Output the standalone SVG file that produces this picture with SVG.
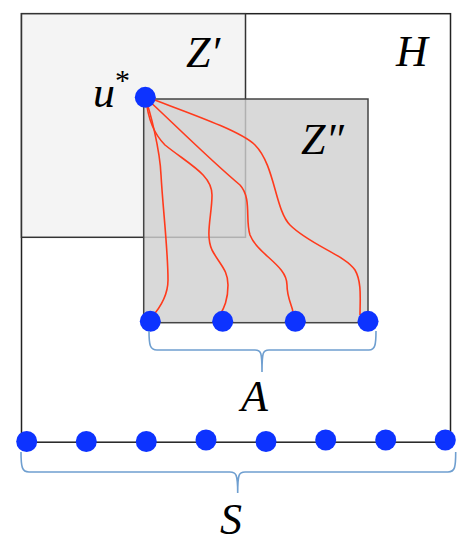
<svg xmlns="http://www.w3.org/2000/svg" width="471" height="543" viewBox="0 0 471 543">
<style>
.lbl{font-family:"Liberation Serif","DejaVu Serif",serif;font-style:italic;font-size:44px;fill:#000}
.dot{fill:#0d33ff}
.curve{fill:none;stroke:#ff3a1c;stroke-width:1.6}
.brace{fill:none;stroke:#6f9fd0;stroke-width:1.6}
</style>
<rect width="471" height="543" fill="#fff"/>
<g id="H">
<rect x="21.5" y="13.7" width="429" height="428.5" fill="#fff" stroke="#222" stroke-width="1.5"/>
<text class="lbl" x="396" y="66">H</text>
</g>
<g id="Zp">
<rect x="21.5" y="13.7" width="224" height="223.6" fill="#f4f4f4" stroke="#333" stroke-width="1.5"/>
<text class="lbl" x="186" y="67">Z′</text>
</g>
<g id="Zpp">
<rect x="143.7" y="99" width="224.3" height="223.7" fill="#cfcfcf" fill-opacity="0.8" stroke="#444" stroke-width="1.5"/>
<text class="lbl" x="301" y="154">Z″</text>
</g>
<g id="connectors">
<path class="curve" d="M145,98 C150,110 160,150 161,175 C163,210 168,250 168,280 C168,295 160,308 151,318"/>
<path class="curve" d="M146,99 C148,120 155,135 165,145 C190,165 212,175 212,195 C212,215 205,235 212,250 C220,265 228,270 228,285 C228,300 224,308 220,315"/>
<path class="curve" d="M146,98 C170,120 210,160 240,185 C252,198 245,220 250,235 C258,255 287,265 287,285 C287,298 292,305 293,312"/>
<path class="curve" d="M147,97 C180,110 240,130 255,145 C275,165 275,210 290,225 C310,245 345,255 355,270 C362,282 360,300 360,315"/>
</g>
<g id="u">
<circle class="dot" cx="145.3" cy="97.3" r="10.5"/>
<text class="lbl" x="93" y="107">u<tspan font-size="30" font-style="normal" dy="-17">*</tspan></text>
</g>
<g id="A">
<circle class="dot" cx="150.3" cy="321.3" r="10.5"/>
<circle class="dot" cx="222.7" cy="321.3" r="10.5"/>
<circle class="dot" cx="295.3" cy="321.3" r="10.5"/>
<circle class="dot" cx="368" cy="321.3" r="10.5"/>
<path class="brace" d="M149,331 C149,345 150,350 157,350 L255,350 C261,350 262,352 262,372 C262,352 263,350 269,350 L369,350 C375,350 376,345 376,331"/>
<text class="lbl" x="241" y="411">A</text>
</g>
<g id="S">
<circle class="dot" cx="26.7" cy="441.5" r="10.5"/>
<circle class="dot" cx="86.3" cy="441.5" r="10.5"/>
<circle class="dot" cx="146.3" cy="441.5" r="10.5"/>
<circle class="dot" cx="206" cy="440" r="10.5"/>
<circle class="dot" cx="266" cy="441.5" r="10.5"/>
<circle class="dot" cx="325.7" cy="440" r="10.5"/>
<circle class="dot" cx="385.7" cy="440" r="10.5"/>
<circle class="dot" cx="445.3" cy="440" r="10.5"/>
<path class="brace" d="M21,452 C21,467 22,472 29,472 L230,472 C236,472 237.7,474 237.7,493 C237.7,474 239,472 245,472 L448,472 C455,472 455.7,467 455.7,452"/>
<text class="lbl" x="220" y="534">S</text>
</g>
</svg>
